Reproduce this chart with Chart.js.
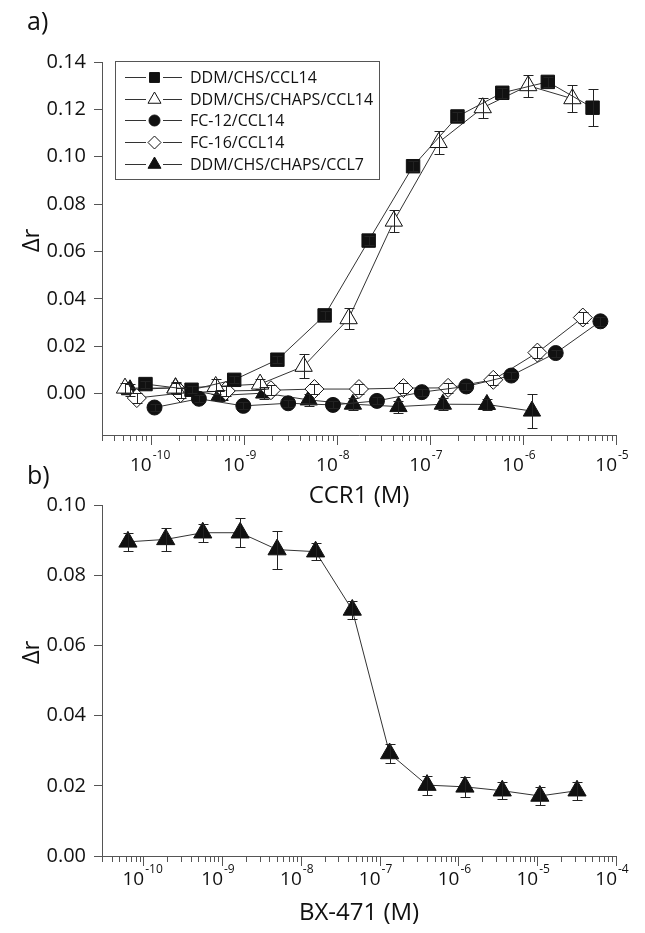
<!DOCTYPE html>
<html>
<head>
<meta charset="utf-8">
<script src="https://cdn.jsdelivr.net/npm/chart.js@4.4.1/dist/chart.umd.min.js"></script>
<style>
  html, body { margin: 0; padding: 0; background: #fff; }
  #wrap { position: relative; width: 645px; height: 933px; }
  canvas { position: absolute; left: 0; }
  #chartA { top: 0; }
  #chartB { top: 465px; }
</style>
</head>
<body>
<div id="wrap">
  <canvas id="chartA" width="645" height="510"></canvas>
  <canvas id="chartB" width="645" height="468"></canvas>
</div>
<script>
const FONT = '"Open Sans", "Noto Sans", sans-serif';
const INK = '#111';
const AXIS = '#555';
const LINE = '#333';

// ---- panel a: CCR1 titration, delta r ----
const seriesLabels = ['DDM/CHS/CCL14', 'DDM/CHS/CHAPS/CCL14', 'FC-12/CCL14', 'FC-16/CCL14', 'DDM/CHS/CHAPS/CCL7'];

const ddmChsX   = [8.8e-11, 2.75e-10, 7.9e-10, 2.3e-9, 7.4e-9, 2.2e-8, 6.6e-8, 1.98e-7, 6.0e-7, 1.85e-6, 5.6e-6];
const ddmChsY   = [0.0040, 0.0016, 0.0058, 0.0143, 0.0330, 0.0646, 0.0960, 0.1170, 0.1270, 0.1316, 0.1207];
const ddmChsErr = [0.0015, 0.0015, 0.0015, 0.0015, 0.002, 0.002, 0.002, 0.002, 0.002, 0.002, 0.0078];

const chapsX   = [5.3e-11, 1.85e-10, 5.0e-10, 1.5e-9, 4.4e-9, 1.34e-8, 4.1e-8, 1.24e-7, 3.7e-7, 1.14e-6, 3.4e-6];
const chapsY   = [0.0023, 0.0023, 0.0030, 0.0040, 0.0115, 0.0316, 0.0728, 0.1060, 0.1207, 0.1300, 0.1245];
const chapsErr = [0.002, 0.002, 0.003, 0.002, 0.005, 0.0045, 0.0046, 0.0047, 0.0042, 0.0047, 0.0057];

const fc12X   = [1.1e-10, 3.3e-10, 9.9e-10, 3.0e-9, 9.1e-9, 2.7e-8, 8.2e-8, 2.46e-7, 7.5e-7, 2.25e-6, 6.8e-6];
const fc12Y   = [-0.0059, -0.0022, -0.0052, -0.0041, -0.0048, -0.0031, 0.0006, 0.0030, 0.0076, 0.0171, 0.0305];
const fc12Err = [0.0015, 0.0015, 0.0015, 0.0015, 0.0015, 0.0015, 0.0015, 0.0015, 0.0015, 0.0015, 0.002];

const fc16X   = [7.1e-11, 2.1e-10, 6.4e-10, 1.96e-9, 5.75e-9, 1.73e-8, 5.2e-8, 1.57e-7, 4.8e-7, 1.43e-6, 4.4e-6];
const fc16Y   = [-0.0019, 0.0002, 0.0011, 0.0014, 0.0019, 0.0019, 0.0023, 0.0024, 0.0058, 0.0173, 0.0321];
const fc16Err = [0.0022, 0.0022, 0.0022, 0.0022, 0.0022, 0.0022, 0.0022, 0.0022, 0.0022, 0.0022, 0.0022];

const ccl7X   = [6.0e-11, 1.85e-10, 5.5e-10, 1.66e-9, 5.0e-9, 1.49e-8, 4.6e-8, 1.38e-7, 4.1e-7, 1.25e-6];
const ccl7Y   = [0.0016, 0.0025, -0.0008, 0.0002, -0.0027, -0.0045, -0.0055, -0.0045, -0.0046, -0.0074];
const ccl7Err = [0.0025, 0.0025, 0.0025, 0.0025, 0.0025, 0.0025, 0.0025, 0.0025, 0.0025, 0.0072];

const yTicksA = [0, 0.02, 0.04, 0.06, 0.08, 0.10, 0.12, 0.14];
const decadesA = [-10, -9, -8, -7, -6, -5];

// ---- panel b: BX-471 competition ----
const bxX   = [6.4e-11, 1.93e-10, 5.7e-10, 1.7e-9, 5.0e-9, 1.54e-8, 4.5e-8, 1.34e-7, 4.0e-7, 1.21e-6, 3.6e-6, 1.08e-5, 3.2e-5];
const bxY   = [0.0895, 0.0902, 0.0921, 0.0921, 0.0873, 0.0867, 0.0701, 0.0292, 0.0202, 0.0197, 0.0186, 0.0171, 0.0186];
const bxErr = [0.0025, 0.0033, 0.0025, 0.0042, 0.0054, 0.0024, 0.0025, 0.0027, 0.0027, 0.0029, 0.0025, 0.0027, 0.0026];

const yTicksB = [0, 0.02, 0.04, 0.06, 0.08, 0.10];
const decadesB = [-10, -9, -8, -7, -6, -5, -4];

Chart.defaults.font.family = FONT;
Chart.defaults.color = INK;

const pts = (xs, ys) => xs.map((x, i) => ({ x: x, y: ys[i] }));

function series(label, xs, ys, errs, style, radius, legendRadius, filled) {
    return {
        label: label,
        data: pts(xs, ys),
        errs: errs,
        showLine: true,
        borderColor: LINE,
        borderWidth: 1,
        pointStyle: style,
        pointRadius: radius,
        legendRadius: legendRadius,
        pointBackgroundColor: filled ? '#111' : '#fff',
        pointBorderColor: '#111',
        pointBorderWidth: 1,
        clip: false
    };
}

// minor + major log ticks between min and max
function logTicks(min, max) {
    const out = [];
    for (let e = Math.floor(Math.log10(min)); e <= Math.ceil(Math.log10(max)); e++) {
        for (let m = 1; m <= 9; m++) {
            const v = m * Math.pow(10, e);
            if (v >= min * 0.999 && v <= max * 1.001) out.push({ value: v });
        }
    }
    return out;
}

const errorBars = {
    id: 'errorBars',
    afterDatasetsDraw(chart) {
        const { ctx, scales: { x, y } } = chart;
        ctx.save();
        ctx.strokeStyle = '#222';
        ctx.lineWidth = 1;
        chart.data.datasets.forEach(ds => {
            if (!ds.errs) return;
            ds.data.forEach((d, i) => {
                const e = ds.errs[i];
                const px = Math.round(x.getPixelForValue(d.x)) + 0.5;
                const y1 = Math.round(y.getPixelForValue(d.y + e)) + 0.5;
                const y2 = Math.round(y.getPixelForValue(d.y - e)) + 0.5;
                ctx.beginPath();
                ctx.moveTo(px, y1); ctx.lineTo(px, y2);
                ctx.moveTo(px - 5, y1); ctx.lineTo(px + 5, y1);
                ctx.moveTo(px - 5, y2); ctx.lineTo(px + 5, y2);
                ctx.stroke();
            });
        });
        ctx.restore();
    }
};

// x tick marks, 10^n labels, axis titles and the panel letter
function panelDecor(p) {
    return {
        id: 'decor' + p.letter.charAt(0),
        afterDraw(chart) {
            const { ctx, chartArea: a, scales: { x } } = chart;
            ctx.save();
            ctx.strokeStyle = AXIS;
            ctx.lineWidth = 1;
            x.ticks.forEach(t => {
                const px = Math.round(x.getPixelForValue(t.value)) + 0.5;
                const lg = Math.log10(t.value);
                const len = Math.abs(lg - Math.round(lg)) < 1e-6 ? 10 : 6;
                ctx.beginPath();
                ctx.moveTo(px, a.bottom);
                ctx.lineTo(px, a.bottom + len);
                ctx.stroke();
            });

            ctx.fillStyle = INK;
            ctx.textBaseline = 'middle';
            const ly = a.bottom + p.labelGap;
            p.decades.forEach(e => {
                const px = x.getPixelForValue(Math.pow(10, e));
                ctx.font = '19px ' + FONT;
                ctx.textAlign = 'right';
                ctx.fillText('10', px + 1, ly);
                ctx.font = '12px ' + FONT;
                ctx.textAlign = 'left';
                ctx.fillText(String(e), px + 2, ly - 10);
            });

            ctx.font = '24px ' + FONT;
            ctx.textAlign = 'center';
            ctx.fillText(p.xTitle, (a.left + a.right) / 2, a.bottom + p.titleGap);

            ctx.save();
            ctx.translate(32, (a.top + a.bottom) / 2 + p.yTitleShift);
            ctx.rotate(-Math.PI / 2);
            ctx.fillText('\u0394r', 0, 0);
            ctx.restore();

            ctx.font = '25px ' + FONT;
            ctx.textAlign = 'left';
            ctx.fillText(p.letter, 27, p.letterY);
            ctx.restore();
        }
    };
}

const legendBox = {
    id: 'legendBox',
    afterDraw(chart) {
        const { ctx } = chart;
        ctx.save();
        ctx.strokeStyle = AXIS;
        ctx.lineWidth = 1;
        ctx.strokeRect(115.5, 61.5, 264, 118);
        chart.data.datasets.forEach((ds, i) => {
            const y = Math.round(77 + i * 21.7) + 0.5;
            ctx.strokeStyle = LINE;
            ctx.beginPath();
            ctx.moveTo(125, y); ctx.lineTo(146, y);
            ctx.moveTo(163, y); ctx.lineTo(182, y);
            ctx.stroke();
            ctx.fillStyle = ds.pointBackgroundColor;
            ctx.strokeStyle = ds.pointBorderColor;
            Chart.helpers.drawPoint(ctx, { pointStyle: ds.pointStyle, radius: ds.legendRadius, borderWidth: 1, rotation: 0 }, 154.5, y);
            ctx.fillStyle = INK;
            ctx.font = '16px ' + FONT;
            ctx.textAlign = 'left';
            ctx.textBaseline = 'middle';
            ctx.fillText(ds.label, 190, y + 1);
        });
        ctx.restore();
    }
};

function yAxis(min, max, ticks) {
    return {
        min: min,
        max: max,
        afterFit: s => { s.width = 102; },
        afterBuildTicks: s => { s.ticks = ticks.map(v => ({ value: v })); },
        ticks: { callback: v => Number(v).toFixed(2), color: INK, font: { size: 20 }, padding: 8 },
        grid: { drawOnChartArea: false, tickLength: 8, color: AXIS, tickColor: AXIS },
        border: { color: AXIS, width: 1 }
    };
}

function xAxis(min, max) {
    return {
        type: 'logarithmic',
        min: min,
        max: max,
        afterFit: s => { s.height = 0; },
        afterBuildTicks: s => { s.ticks = logTicks(min, max); },
        ticks: { display: false },
        grid: { display: false },
        border: { color: AXIS, width: 1 }
    };
}

const baseOptions = (padding, xs, ys) => ({
    responsive: false,
    animation: false,
    layout: { padding: padding },
    plugins: { legend: { display: false }, tooltip: { enabled: false } },
    scales: { x: xs, y: ys }
});

new Chart(document.getElementById('chartA'), {
    type: 'scatter',
    data: {
        datasets: [
            series(seriesLabels[0], ddmChsX, ddmChsY, ddmChsErr, 'rect', 9.5, 7, true),
            series(seriesLabels[1], chapsX, chapsY, chapsErr, 'triangle', 10, 7.5, false),
            series(seriesLabels[2], fc12X, fc12Y, fc12Err, 'circle', 7.5, 5.5, true),
            series(seriesLabels[3], fc16X, fc16Y, fc16Err, 'rectRot', 9.5, 6.5, false),
            series(seriesLabels[4], ccl7X, ccl7Y, ccl7Err, 'triangle', 10, 7.5, true)
        ]
    },
    options: baseOptions({ left: 0, top: 62, right: 29, bottom: 75 },
        xAxis(3e-11, 1e-5), yAxis(-0.0175, 0.14, yTicksA)),
    plugins: [errorBars, legendBox,
        panelDecor({ letter: 'a)', letterY: 23, decades: decadesA, xTitle: 'CCR1 (M)', labelGap: 31, titleGap: 61, yTitleShift: -8 })]
});

new Chart(document.getElementById('chartB'), {
    type: 'scatter',
    data: {
        datasets: [
            series('BX-471', bxX, bxY, bxErr, 'triangle', 10.5, 7.5, true)
        ]
    },
    options: baseOptions({ left: 0, top: 40, right: 29, bottom: 77 },
        xAxis(3e-11, 1e-4), yAxis(0, 0.10, yTicksB)),
    plugins: [errorBars,
        panelDecor({ letter: 'b)', letterY: 12, decades: decadesB, xTitle: 'BX-471 (M)', labelGap: 24, titleGap: 57, yTitleShift: -28 })]
});
</script>
</body>
</html>
